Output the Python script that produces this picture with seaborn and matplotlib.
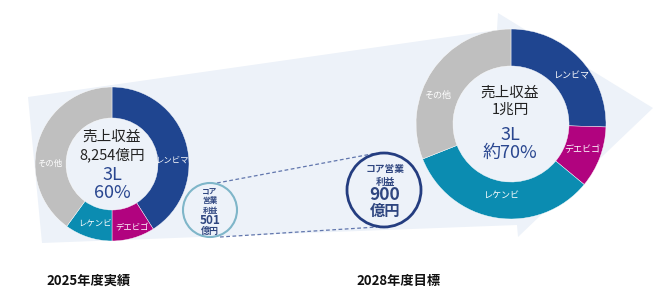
import matplotlib
matplotlib.use("Agg")
import matplotlib.pyplot as plt
from matplotlib.patches import Polygon, Circle
import seaborn as sns

# ---- data ----
segments = ["レンビマ", "デエビゴ", "レケンビ", "その他"]
share_2025 = [41, 9, 10, 40]
share_2028 = [25.5, 10.5, 33, 31]
revenue_2025 = "8,254億円"
revenue_2028 = "1兆円"
ratio_2025 = "60%"
ratio_2028 = "約70%"
core_profit_2025 = "501"
core_profit_2028 = "900"
year_labels = ["2025年度実績", "2028年度目標"]

sns.set_theme(style="white")
plt.rcParams["font.family"] = ["Noto Sans CJK JP", "DejaVu Sans"]

colors = ["#1f4590", "#b1037f", "#0b8cb1", "#bfbfbf"]
bg = "#edf2f9"
navy = "#2a4790"
W, H = 667, 301

fig = plt.figure(figsize=(6.67, 3.01), dpi=100)
ax = fig.add_axes([0, 0, 1, 1])

def Y(y):
    return H - y

# background arrow
arrow = [(28, 97), (497, 30), (498, 13), (653, 108), (518, 237), (517, 225), (42, 243)]
ax.add_patch(Polygon([(x, Y(y)) for x, y in arrow], closed=True, fc=bg, ec="none", zorder=0))

# donuts
def donut(values, cx, cy, r, width):
    ax.pie(values, colors=colors, startangle=90, counterclock=False,
           center=(cx, Y(cy)), radius=r,
           wedgeprops=dict(width=width, linewidth=0.3, edgecolor="white"))

donut(share_2025, 112, 164, 77, 31)
donut(share_2028, 511, 124, 95, 37)

ax.set_xlim(0, W)
ax.set_ylim(0, H)
ax.set_aspect("equal")
ax.axis("off")

# segment labels
seg_pos_2025 = [(172, 160), (132, 227), (95, 223), (50, 163)]
seg_pos_2028 = [(572, 76), (582, 150), (502, 195), (438, 95)]
for name, (x, y) in zip(segments, seg_pos_2025):
    ax.text(x, Y(y), name, color="white", fontsize=6, ha="center", va="center", zorder=5)
for name, (x, y) in zip(segments, seg_pos_2028):
    ax.text(x, Y(y), name, color="white", fontsize=6.5, ha="center", va="center", zorder=5)

# center texts
dark = "#222222"
ax.text(112, Y(137), "売上収益", fontsize=10.5, color=dark, ha="center", va="center")
ax.text(112, Y(155), revenue_2025, fontsize=10.5, color=dark, ha="center", va="center")
ax.text(112, Y(175), "3L", fontsize=13, color=navy, ha="center", va="center")
ax.text(112, Y(193), ratio_2025, fontsize=13, color=navy, ha="center", va="center")

ax.text(510, Y(93), "売上収益", fontsize=10.5, color=dark, ha="center", va="center")
ax.text(510, Y(110), revenue_2028, fontsize=10.5, color=dark, ha="center", va="center")
ax.text(510, Y(135), "3L", fontsize=13, color=navy, ha="center", va="center")
ax.text(510, Y(153), ratio_2028, fontsize=13, color=navy, ha="center", va="center")

# dashed connectors
ax.plot([217, 377], [Y(183), Y(153)], ls=(0, (3, 2)), color="#6176ad", lw=0.9, zorder=1)
ax.plot([220, 377], [Y(237), Y(227)], ls=(0, (3, 2)), color="#6176ad", lw=0.9, zorder=1)

# profit circles
ax.add_patch(Circle((210, Y(210)), 27, fc=bg, ec="#7fb6c9", lw=1.5, zorder=3))
ax.add_patch(Circle((384, Y(190)), 37, fc=bg, ec="#243d80", lw=2, zorder=6))

pc = "#2f4680"
for txt, y, fs in [("コア", 191, 5.5), ("営業", 201, 5.5), ("利益", 210, 5.5),
                   (core_profit_2025, 221, 8.5), ("億円", 231, 6.5)]:
    ax.text(210, Y(y), txt, fontsize=fs, color=pc, ha="center", va="center",
            fontweight="bold", zorder=7)
for txt, y, fs in [("コア営業", 169, 7), ("利益", 182, 7), (core_profit_2028, 195, 12.5),
                   ("億円", 211, 11)]:
    ax.text(385, Y(y), txt, fontsize=fs, color=pc, ha="center", va="center",
            fontweight="bold", zorder=7)

# year labels
ax.text(89, Y(281), year_labels[0], fontsize=9.5, color="#111111", ha="center", va="center",
        fontweight="bold")
ax.text(399, Y(281), year_labels[1], fontsize=9.5, color="#111111", ha="center", va="center",
        fontweight="bold")

fig.savefig("out.png", dpi=100, facecolor="white")
